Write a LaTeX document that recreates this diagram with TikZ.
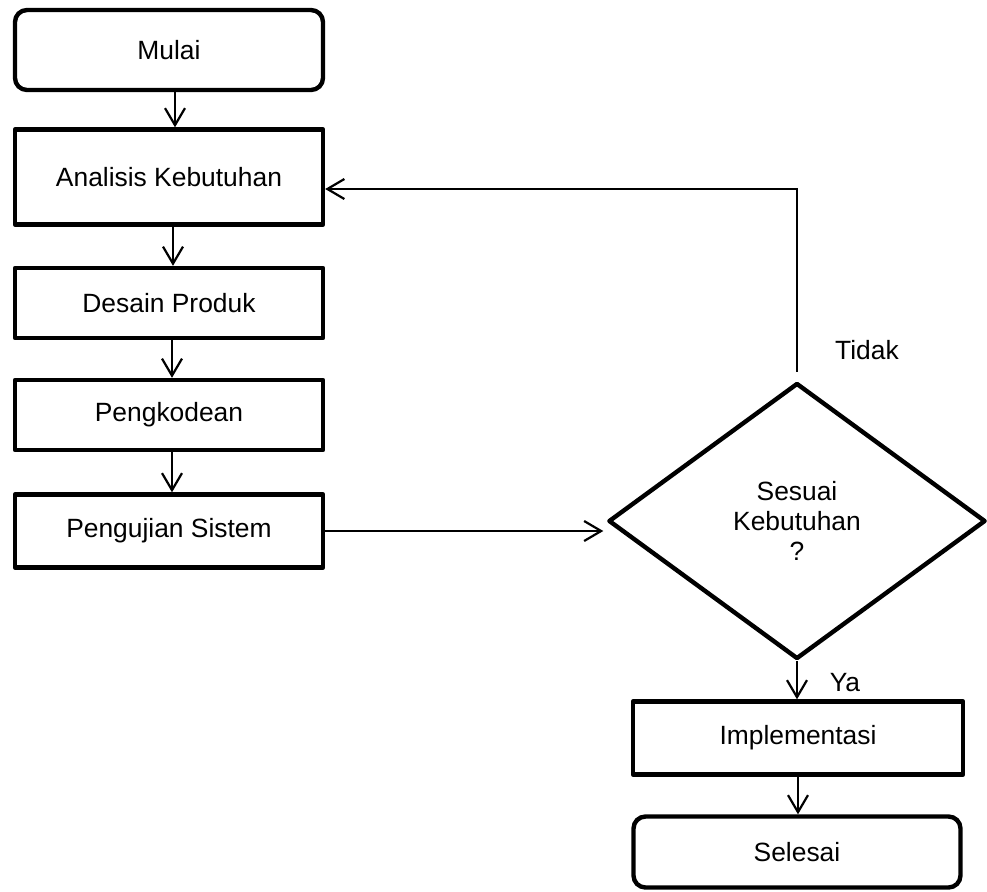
\documentclass[tikz,border=0pt]{standalone}
\usepackage{fontspec}
\setmainfont{Liberation Sans}
\usetikzlibrary{shapes.geometric,arrows.meta}
\begin{document}
\begin{tikzpicture}[x=0.5pt,y=-0.5pt,
  font=\fontsize{13.2}{15}\selectfont,
  box/.style={draw,line width=2.2pt,line join=round,minimum width=154pt,inner sep=0pt},
  terminal/.style={box,rounded corners=6pt},
  decision/.style={draw,diamond,line width=2.2pt,line join=round,minimum width=188.5pt,minimum height=138pt,inner sep=0pt,align=center},
  flow/.style={line width=1.1pt,-{Straight Barb[length=8.5pt,width=10pt]}},
  lbl/.style={inner sep=0pt}
]
\useasboundingbox (0,0) rectangle (987,891);

% left column: process steps
\node[terminal,minimum height=40pt] (mulai) at (169,50) {Mulai};
\node[box,minimum height=47.5pt] (analisis) at (169,177) {Analisis Kebutuhan};
\node[box,minimum height=35pt] (desain) at (169,303) {Desain Produk};
\node[box,minimum height=35pt] (kode) at (169,415) {Pengkodean};
\node[box,minimum height=36.5pt] (uji) at (169,531) {Pengujian Sistem};

% right column: decision and finish
\node[decision] (cek) at (797,521) {Sesuai\\Kebutuhan\\?};
\node[box,minimum width=165pt,minimum height=36.5pt] (impl) at (798,738) {Implementasi};
\node[terminal,minimum width=163.5pt,minimum height=35.5pt] (selesai) at (797,852) {Selesai};

% branch labels
\node[lbl] (tidak) at (867,350) {Tidak};
\node[lbl] (ya) at (845,683) {Ya};

% connectors
\draw[flow] ([xshift=3pt]mulai.south) -- ([xshift=3pt]analisis.north);
\draw[flow] ([xshift=2pt]analisis.south) -- ([xshift=2pt]desain.north);
\draw[flow] ([xshift=1.5pt]desain.south) -- ([xshift=1.5pt]kode.north);
\draw[flow] ([xshift=1.5pt]kode.south) -- ([xshift=1.5pt]uji.north);
\draw[flow] (uji.east) -- ([xshift=-1.5pt]uji.east -| cek.west);
\draw[flow] ([yshift=4.5pt]cek.north) |- ([yshift=-6pt]analisis.east);
\draw[flow] (cek.south) -- (cek.south |- impl.north);
\draw[flow] (impl.south) -- (impl.south |- selesai.north);
\end{tikzpicture}
\end{document}
